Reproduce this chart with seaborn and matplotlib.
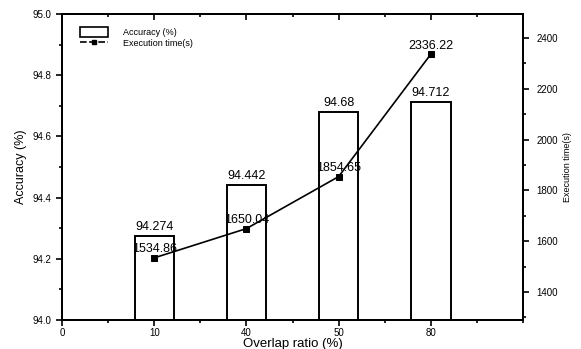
import numpy as np
import pandas as pd
import matplotlib.pyplot as plt
import seaborn as sns
from matplotlib.patches import Patch
from matplotlib.lines import Line2D
from matplotlib.ticker import MultipleLocator

# Data
# --------------
ratios = ["10", "40", "50", "80"]
accuracy = [94.274, 94.442, 94.68, 94.712]
exec_time = [1534.86, 1650.04, 1854.65, 2336.22]
tick_order = ["0", "10", "40", "50", "80"]

df = pd.DataFrame({"ratio": ratios, "accuracy": accuracy, "time": exec_time})
df["pos"] = [tick_order.index(r) for r in ratios]

# Set-up
# --------------
sns.set_theme(style="ticks", rc={"text.color": "black", "axes.labelcolor": "black",
                                 "xtick.color": "black", "ytick.color": "black"})
plt.rcParams["font.family"] = ["Liberation Sans", "DejaVu Sans"]

figure, ax = plt.subplots(figsize=(5.81, 3.49), dpi=100)
figure.subplots_adjust(left=0.107, right=0.900, bottom=0.083, top=0.96)

# Bars (accuracy)
sns.barplot(
    data=df, x="ratio", y="accuracy", order=tick_order,
    color="white", edgecolor="black", linewidth=1.4,
    width=0.43, saturation=1, ax=ax,
)
for p, v in zip(df["pos"], df["accuracy"]):
    ax.annotate(f"{v:g}", (p, v), xytext=(0, 2), textcoords="offset points",
                ha="center", va="bottom", fontsize=9, color="black")

ax.set_xlim(0, 5)
ax.set_ylim(94.0, 95.0)
ax.yaxis.set_major_locator(MultipleLocator(0.2))
ax.yaxis.set_minor_locator(MultipleLocator(0.1))
ax.xaxis.set_minor_locator(MultipleLocator(0.5))
ax.set_xticks(range(len(tick_order)))
ax.set_xticklabels(tick_order)
ax.set_xlabel("Overlap ratio (%)", fontsize=9.5, labelpad=0)
ax.set_ylabel("Accuracy (%)", fontsize=9, labelpad=4)
ax.tick_params(axis="both", which="both", labelsize=7, width=1.2, color="black")
ax.tick_params(axis="both", which="major", length=4)
ax.tick_params(axis="both", which="minor", length=2.5)
ax.tick_params(axis="x", pad=2)

# Line (execution time)
ax2 = ax.twinx()
sns.lineplot(
    data=df, x="pos", y="time", color="black", linewidth=1.2,
    marker="s", markersize=4, markeredgecolor="black", ax=ax2,
)
for p, v in zip(df["pos"], df["time"]):
    ax2.annotate(f"{v:.2f}", (p, v), xytext=(0, 2), textcoords="offset points",
                 ha="center", va="bottom", fontsize=9, color="black")

ax2.set_xlim(0, 5)
ax2.set_ylim(1290, 2495)
ax2.yaxis.set_major_locator(MultipleLocator(200))
ax2.yaxis.set_minor_locator(MultipleLocator(100))
ax2.set_ylabel("Execution time(s)", fontsize=6.5, labelpad=3)
ax2.set_xlabel("")
ax2.tick_params(axis="y", which="both", labelsize=7, width=1.2, color="black")
ax2.tick_params(axis="y", which="major", length=4, pad=6)
ax2.tick_params(axis="y", which="minor", length=2.5)

# Top ticks pointing inward like the original
ax.tick_params(axis="x", which="both", top=True)
for t in ax.xaxis.get_major_ticks() + ax.xaxis.get_minor_ticks():
    t.tick2line.set_marker(3)

for a in (ax, ax2):
    for s in a.spines.values():
        s.set_visible(True)
        s.set_linewidth(1.4)
        s.set_color("black")

# Legend
handles = [
    Patch(facecolor="white", edgecolor="black", linewidth=1.2),
    Line2D([], [], color="black", linestyle=(0, (4, 1.5)), linewidth=1.2,
           marker="s", markersize=3.5),
]
ax.legend(handles, ["Accuracy (%)", "Execution time(s)"], loc="upper left",
          bbox_to_anchor=(0.02, 0.985), frameon=False, fontsize=6.5,
          handlelength=3.2, handleheight=1.3, handletextpad=1.6,
          labelspacing=0.15)

figure.savefig("out.png", dpi=100)
